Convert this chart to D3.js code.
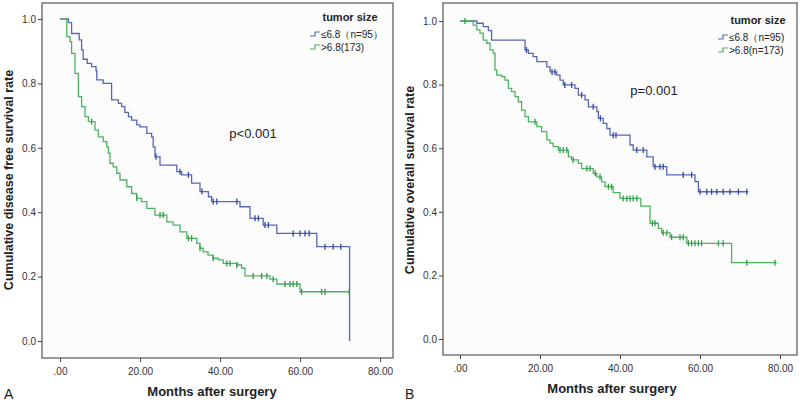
<!DOCTYPE html>
<meta charset='utf-8'>
<head>
    <title>KM curves</title>
    <script src='https://cdn.jsdelivr.net/npm/d3@7/dist/d3.min.js'></script>
</head>

<style>
    body { margin: 0; background: #fff; }
    text { font-family: Arial, 'Liberation Sans', sans-serif; fill: #222; }
    .tick text { font-size: 10px; fill: #333; }
    .tick line { stroke: #444; }
    .domain { display: none; }
    .frame { fill: #fcfcfc; stroke: #555; stroke-width: 1.2px; }
    .curve { fill: none; stroke-width: 1.3px; }
</style>

<svg width='800' height='402'></svg>

<script>
    // months / survival after each drop
    var dfsLow = [[0,1],[2.1,0.989],[2.9,0.955],[4.8,0.935],[5.4,0.904],[5.8,0.875],[6.8,0.862],[7.9,0.852],[9.0,0.84],
        [9.2,0.811],[10.8,0.80],[12.9,0.749],[14.6,0.738],[15.4,0.728],[16.2,0.71],[17.1,0.697],[17.9,0.686],[19.2,0.671],
        [20,0.665],[21.7,0.645],[22.9,0.634],[23.3,0.603],[23.75,0.572],[25,0.546],[29.2,0.526],[30.4,0.516],[32.9,0.49],
        [35,0.464],[37.1,0.448],[37.9,0.433],[45,0.417],[47.5,0.381],[50.8,0.36],[54.2,0.334],[64.2,0.293],[72.4,0]];
    var dfsLowCens = [24, 30, 32.1, 35.5, 38.3, 39.2, 44.2, 48.75, 49.6, 51.25, 52.1, 58.3, 60, 61.25, 62.3, 66.25, 68.3, 70.2];
    var dfsHigh = [[0,1],[1.7,0.945],[2.5,0.93],[2.9,0.893],[3.75,0.831],[4.6,0.759],[5.4,0.728],[6.25,0.697],[7.1,0.681],
        [8.75,0.655],[9.6,0.634],[10.8,0.619],[11.7,0.603],[12.1,0.583],[12.5,0.552],[13.3,0.541],[14.2,0.521],[15,0.5],
        [16.7,0.479],[17.9,0.458],[19.2,0.443],[20.4,0.433],[21.7,0.412],[23.75,0.391],[26.7,0.37],[28.3,0.36],[30,0.339],
        [31.7,0.319],[34.2,0.303],[35,0.288],[35.8,0.277],[37,0.267],[38.3,0.257],[39.6,0.252],[40.8,0.241],[44.2,0.236],
        [45.4,0.226],[46.25,0.202],[52.5,0.192],[54.2,0.177],[60,0.153],[72.4,0.153]];
    var dfsHighCens = [7.9, 19.2, 25, 25.8, 32.1, 32.9, 35, 38.3, 41.7, 42.5, 44.2, 48.3, 50.4, 51.7, 53.3, 56.25, 57.5,
        58.3, 59.2, 60.4, 65.4, 66.25, 72.3];

    var osLow = [[0,1],[4.2,0.993],[5.8,0.982],[7.1,0.97],[7.9,0.94],[16.25,0.909],[17.1,0.898],[18.3,0.888],[19.2,0.872],
        [21.7,0.856],[22.5,0.84],[24.2,0.83],[25,0.814],[25.8,0.799],[28.75,0.788],[29.6,0.767],[31.25,0.752],[32.1,0.73],
        [34.2,0.715],[34.6,0.694],[35.8,0.678],[36.7,0.662],[37.5,0.641],[42.5,0.61],[43.3,0.594],[46.7,0.573],[48.3,0.542],
        [51.7,0.516],[58.75,0.495],[59.6,0.463],[72.1,0.463]];
    var osLowCens = [16.6, 23, 23.75, 26.2, 27.9, 30.4, 33.3, 35.1, 38.3, 39, 44.2, 45.8, 48.75, 50, 50.8, 55.8, 57.9,
        60, 61.7, 62.9, 64.2, 65.8, 67.5, 69.6, 71.7];
    var osHigh = [[0,1],[3.3,0.987],[4.2,0.972],[5,0.962],[5.8,0.94],[6.7,0.93],[7.5,0.909],[8.3,0.899],[8.75,0.846],
        [9.2,0.83],[10.4,0.825],[11.25,0.814],[12.1,0.788],[12.9,0.778],[13.75,0.762],[14.6,0.746],[15.4,0.72],[16.25,0.699],
        [17.1,0.683],[19.2,0.668],[20.4,0.652],[21.7,0.626],[22.5,0.616],[23.3,0.605],[24.6,0.594],[27.1,0.573],[27.9,0.563],
        [29.6,0.552],[30.4,0.536],[33.3,0.521],[34.2,0.51],[35.4,0.494],[36.25,0.479],[38.3,0.46],[40,0.442],[45.2,0.418],
        [47.5,0.364],[49.6,0.348],[50.4,0.334],[52.5,0.32],[56.7,0.301],[67.9,0.24],[79.2,0.24]];
    var osHighCens = [1.25, 18.75, 25, 25.8, 26.7, 28.3, 31.7, 32.5, 33.8, 35, 37.1, 37.9, 40.8, 41.7, 42.5, 43.3, 44.2,
        48.1, 48.75, 50.8, 51.7, 52.9, 55, 55.8, 57.1, 57.9, 58.75, 59.6, 60.4, 64.6, 65.8, 71.7, 78.75];

    var xTicks = [0, 20, 40, 60, 80];
    var yTicks = [0, 0.2, 0.4, 0.6, 0.8, 1.0];
    var blue = '#5668b3', blueDark = '#3448a8';
    var green = '#4cb460', greenDark = '#2e9e44';

    var svg = d3.select('svg');

    var panels = [
        {left: 42, top: 3, right: 393, bottom: 358, x0: 60, y1: 19, y0: 341, tag: 'A',
         ytitle: 'Cumulative disease free survival rate', p: 'p<0.001', px: 253, py: 138,
         legX: 310, legY: 17, labels: ['\u22646.8\uff08n=95\uff09', '>6.8(173)'],
         series: [[dfsLow, dfsLowCens, blue, blueDark], [dfsHigh, dfsHighCens, green, greenDark]]},
        {left: 443, top: 3, right: 797, bottom: 355, x0: 460, y1: 21, y0: 339, tag: 'B',
         ytitle: 'Cumulative overall survival rate', p: 'p=0.001', px: 654, py: 95,
         legX: 718, legY: 20, labels: ['\u22646.8\uff08n=95)', '>6.8(n=173)'],
         series: [[osLow, osLowCens, blue, blueDark], [osHigh, osHighCens, green, greenDark]]}
    ];

    panels.forEach(function (pn) {
        var g = svg.append('g');
        var x = d3.scaleLinear().domain([0, 80]).range([pn.x0, pn.x0 + 320]);
        var y = d3.scaleLinear().domain([0, 1]).range([pn.y0, pn.y1]);

        g.append('rect').attr('class', 'frame')
            .attr('x', pn.left).attr('y', pn.top)
            .attr('width', pn.right - pn.left).attr('height', pn.bottom - pn.top);

        g.append('g').attr('transform', 'translate(' + pn.left + ',0)')
            .call(d3.axisLeft(y).tickValues(yTicks).tickSize(4).tickPadding(2).tickFormat(d3.format('.1f')));
        g.append('g').attr('transform', 'translate(0,' + pn.bottom + ')')
            .call(d3.axisBottom(x).tickValues(xTicks).tickSize(4).tickPadding(6)
                .tickFormat(function (d) { return d === 0 ? '.00' : d.toFixed(2); }));

        var line = d3.line().curve(d3.curveStepAfter)
            .x(function (d) { return x(d[0]); })
            .y(function (d) { return y(d[1]); });
        var bis = d3.bisector(function (d) { return d[0]; }).right;

        pn.series.forEach(function (s) {
            g.append('path').attr('class', 'curve').attr('d', line(s[0])).attr('stroke', s[2]);
            g.selectAll(null).data(s[1]).enter().append('line')
                .attr('x1', function (d) { return x(d); }).attr('x2', function (d) { return x(d); })
                .attr('y1', function (d) { return y(s[0][bis(s[0], d) - 1][1]) - 3; })
                .attr('y2', function (d) { return y(s[0][bis(s[0], d) - 1][1]) + 3; })
                .attr('stroke', s[3]).attr('stroke-width', 1.3);
        });

        // legend
        g.append('text').attr('x', pn.legX + 40).attr('y', pn.legY + 4)
            .attr('text-anchor', 'middle').style('font-size', '11px').style('font-weight', 'bold')
            .attr('fill', '#333').text('tumor size');
        pn.labels.forEach(function (lb, i) {
            var ly = pn.legY + 17 + i * 13;
            g.append('path').attr('fill', 'none').attr('stroke', pn.series[i][2]).attr('stroke-width', 1.2)
                .attr('d', 'M' + pn.legX + ',' + (ly + 2) + 'h5v-4h5');
            g.append('text').attr('x', pn.legX + 11).attr('y', ly + 4)
                .style('font-size', '10px').text(lb);
        });

        g.append('text').attr('x', pn.px).attr('y', pn.py).attr('text-anchor', 'middle')
            .style('font-size', '13px').text(pn.p);

        g.append('text').attr('transform', 'translate(' + (pn.left - 29) + ',' + ((pn.y0 + pn.y1) / 2) + ') rotate(-90)')
            .attr('text-anchor', 'middle').style('font-size', '12.5px').style('font-weight', 'bold')
            .text(pn.ytitle);
        g.append('text').attr('x', x(38)).attr('y', pn.bottom + 38).attr('text-anchor', 'middle')
            .style('font-size', '13px').style('font-weight', 'bold').text('Months after surgery');
        g.append('text').attr('x', pn.left - 38).attr('y', 399)
            .style('font-size', '14px').text(pn.tag);
    });
</script>
